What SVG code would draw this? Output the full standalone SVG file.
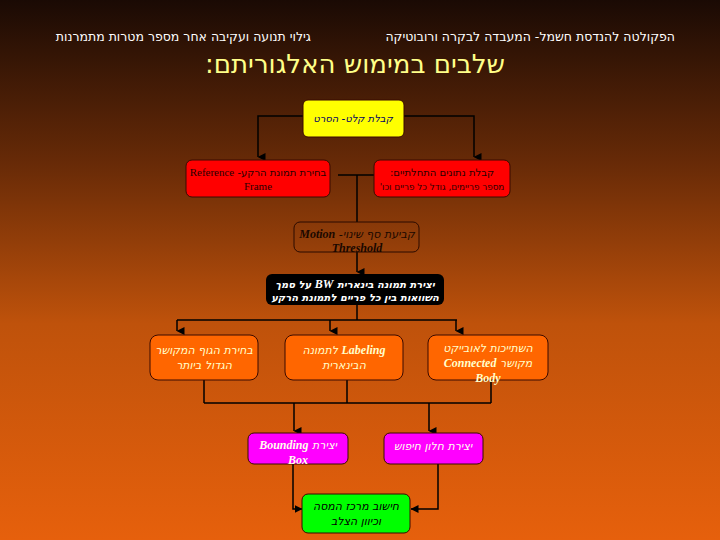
<svg xmlns="http://www.w3.org/2000/svg" width="720" height="540" viewBox="0 0 720 540">
<defs>
<linearGradient id="bg" x1="0" y1="0" x2="0" y2="1">
<stop offset="0" stop-color="#1a0a04"/>
<stop offset="0.3" stop-color="#672a07"/>
<stop offset="0.6" stop-color="#bf520b"/>
<stop offset="1" stop-color="#e6600c"/>
</linearGradient>
<marker id="ah" viewBox="0 0 8 8" refX="4" refY="7.5" markerWidth="8" markerHeight="8" markerUnits="userSpaceOnUse" orient="auto-start-reverse">
<path d="M0,0 L8,0 L4,8 Z" fill="#000"/>
</marker>
<marker id="ahr" viewBox="0 0 8 8" refX="7.5" refY="4" markerWidth="8" markerHeight="8" markerUnits="userSpaceOnUse" orient="auto">
<path d="M0,0 L8,4 L0,8 Z" fill="#000"/>
</marker>
</defs>
<style>
.box{stroke:#3a0a00;stroke-width:1}
.he{font-family:"DejaVu Sans","Liberation Sans",sans-serif;text-anchor:middle}
.hdr{font-family:"DejaVu Sans","Liberation Sans",sans-serif;font-size:12.5px;fill:#ffffff}
.ttl{font-family:"DejaVu Sans","Liberation Sans",sans-serif;font-size:26px;fill:#ffff88}
.lat{font-family:"Liberation Serif",serif;font-style:italic;font-weight:bold}
.ser{font-family:"Liberation Serif",serif}
.ln{fill:none;stroke:#000;stroke-width:1.5}
</style>
<rect width="720" height="540" fill="url(#bg)"/>
<text class="hdr" x="675" y="41" direction="rtl" text-anchor="start">הפקולטה להנדסת חשמל- המעבדה לבקרה ורובוטיקה</text>
<text class="hdr" x="311" y="41" direction="rtl" text-anchor="start">גילוי תנועה ועקיבה אחר מספר מטרות מתמרנות</text>
<text class="ttl" x="355" y="73" direction="rtl" text-anchor="middle">שלבים במימוש האלגוריתם:</text>

<g id="connectors">
<path class="ln" d="M303,116 H258 V157" marker-end="url(#ah)"/>
<path class="ln" d="M404,116 H474 V157" marker-end="url(#ah)"/>
<path class="ln" d="M338,175 H374 M357,175 V222"/>
<path class="ln" d="M357,252 V272" marker-end="url(#ah)"/>
<path class="ln" d="M357,305 V320 M177,320 H457"/>
<path class="ln" d="M177,320 V331" marker-end="url(#ah)"/>
<path class="ln" d="M330,320 V331" marker-end="url(#ah)"/>
<path class="ln" d="M456,320 V331" marker-end="url(#ah)"/>
<path class="ln" d="M204,380 V403 M347,380 V403 M491,380 V403 M204,403 H491"/>
<path class="ln" d="M294,403 V431" marker-end="url(#ah)"/>
<path class="ln" d="M429,403 V431" marker-end="url(#ah)"/>
<path class="ln" d="M293,464 V509 H302" marker-end="url(#ahr)"/>
<path class="ln" d="M438,464 V509 H411" marker-end="url(#ahr)"/>
</g>

<g id="input">
<rect class="box" x="303" y="100" width="101" height="37" rx="5" fill="#ffff00"/>
<text class="he" x="353" y="122" direction="rtl" fill="#000066" font-style="italic" font-size="10">קבלת קלט- הסרט</text>
</g>
<g id="reference">
<rect class="box" x="186" y="160" width="144" height="37" rx="6" fill="#ff0000"/>
<text class="he" x="258" y="176" direction="rtl" fill="#2a0000" font-size="10">בחירת תמונת הרקע- <tspan class="ser" font-size="11">Reference</tspan></text>
<text class="he ser" x="258" y="190" fill="#2a0000" font-size="11">Frame</text>
</g>
<g id="params">
<rect class="box" x="374" y="160" width="136" height="37" rx="6" fill="#ff0000"/>
<text class="he" x="442" y="176" direction="rtl" fill="#2a0000" font-size="10">קבלת נתונים התחלתיים:</text>
<text class="he" x="442" y="190" direction="rtl" fill="#2a0000" font-size="8.8">מספר פריימים, גודל כל פריים וכו'</text>
</g>
<g id="threshold">
<rect x="294" y="222" width="125" height="30" rx="6" fill="none" stroke="#2a0a00" stroke-width="1"/>
<text class="he" x="357" y="238" direction="rtl" fill="#1a0800" font-style="italic" font-size="11">קביעת סף שינוי- <tspan class="lat" font-size="12">Motion</tspan></text>
<text class="he lat" x="357" y="252" fill="#1a0800" font-size="12">Threshold</text>
</g>
<g id="binary">
<rect x="266" y="274" width="178" height="31" rx="6" fill="#000"/>
<text class="he" x="355" y="288" direction="rtl" fill="#fff" font-style="italic" font-weight="bold" font-size="10">יצירת תמונה בינארית <tspan class="lat" font-size="12">BW</tspan> על סמך</text>
<text class="he" x="355" y="301" direction="rtl" fill="#fff" font-style="italic" font-weight="bold" font-size="10">השוואות בין כל פריים לתמונת הרקע</text>
</g>
<g id="largest">
<rect class="box" x="150" y="335" width="108" height="45" rx="8" fill="#ff6600"/>
<text class="he" x="204" y="354" direction="rtl" fill="#ffffcc" font-style="italic" font-size="11">בחירת הגוף המקושר</text>
<text class="he" x="204" y="369" direction="rtl" fill="#ffffcc" font-style="italic" font-size="11">הגדול ביותר</text>
</g>
<g id="labeling">
<rect class="box" x="285" y="335" width="118" height="45" rx="8" fill="#ff6600"/>
<text class="he" x="344" y="354" direction="rtl" fill="#ffffcc" font-style="italic" font-size="11"><tspan class="lat" font-size="12">Labeling</tspan> לתמונה</text>
<text class="he" x="344" y="369" direction="rtl" fill="#ffffcc" font-style="italic" font-size="11">הבינארית</text>
</g>
<g id="connected">
<rect class="box" x="428" y="335" width="120" height="45" rx="8" fill="#ff6600"/>
<text class="he" x="488" y="352" direction="rtl" fill="#ffffcc" font-style="italic" font-size="11">השתייכות לאובייקט</text>
<text class="he" x="488" y="367" direction="rtl" fill="#ffffcc" font-style="italic" font-size="11">מקושר <tspan class="lat" font-size="12">Connected</tspan></text>
<text class="he lat" x="488" y="382" fill="#ffffcc" font-size="12">Body</text>
</g>
<g id="bbox">
<rect class="box" x="248" y="433" width="100" height="31" rx="6" fill="#ff00ff"/>
<text class="he" x="298" y="449" direction="rtl" fill="#ffffee" font-style="italic" font-size="11">יצירת <tspan class="lat" font-size="12">Bounding</tspan></text>
<text class="he lat" x="298" y="464" fill="#ffffee" font-size="12">Box</text>
</g>
<g id="window">
<rect class="box" x="384" y="433" width="99" height="31" rx="6" fill="#ff00ff"/>
<text class="he" x="433" y="450" direction="rtl" fill="#ffffee" font-style="italic" font-size="11">יצירת חלון חיפוש</text>
</g>
<g id="centroid">
<rect class="box" x="302" y="494" width="108" height="39" rx="6" fill="#00ff00"/>
<text class="he" x="356" y="510" direction="rtl" fill="#000" font-style="italic" font-size="11">חישוב מרכז המסה</text>
<text class="he" x="356" y="525" direction="rtl" fill="#000" font-style="italic" font-size="11">וכיוון הצלב</text>
</g>
</svg>
